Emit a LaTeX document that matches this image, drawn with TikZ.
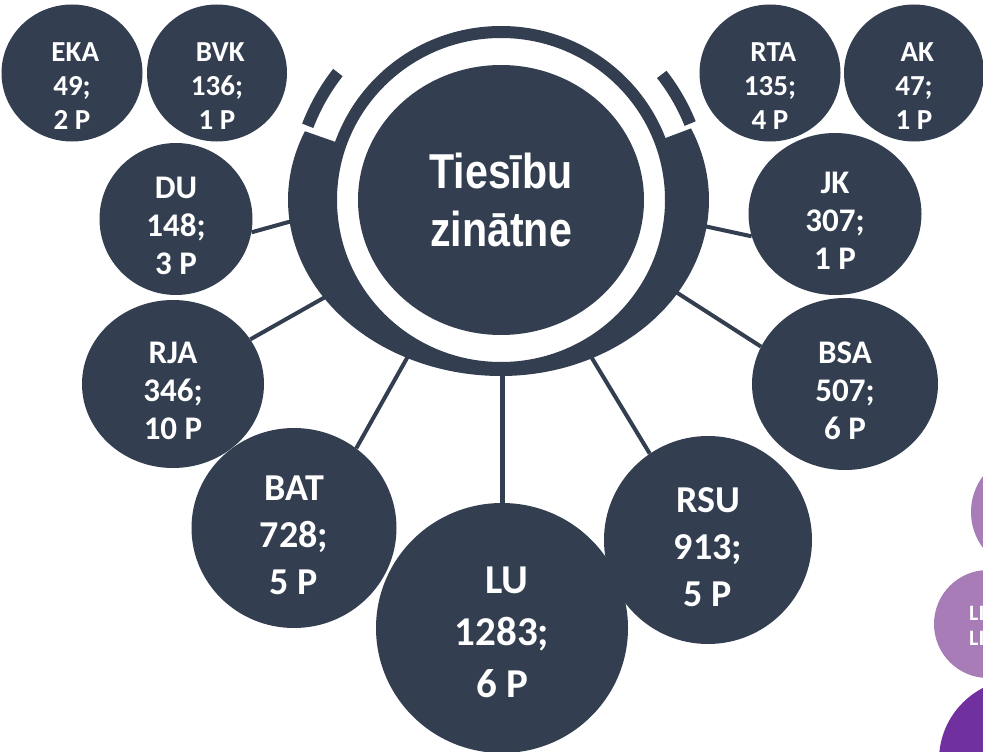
\documentclass[tikz,border=0pt]{standalone}
\usepackage{fontspec}
\setmainfont{Carlito}
\newfontfamily\tzfont{Liberation Sans}[FakeStretch=0.84]
\usetikzlibrary{shapes.geometric}
\definecolor{navy}{HTML}{333F50}
\definecolor{lilac}{HTML}{A77CB7}
\definecolor{plum}{HTML}{7030A0}
\newcommand\st[1][1.05em]{\rule{0pt}{#1}}

\begin{document}
\begin{tikzpicture}[x=1pt, y=1pt,
    bub/.style={ellipse, fill=navy, text=white, inner sep=0pt, align=center},
    sm/.style={bub, inner sep=-12pt, font=\bfseries\fontsize{29}{34}\selectfont},
    md/.style={bub, inner sep=-5pt, font=\bfseries\fontsize{33}{38}\selectfont},
    lg/.style={bub, font=\bfseries\fontsize{38}{47}\selectfont},
    conn/.style={navy, line width=4pt}]
    \useasboundingbox (0,0) rectangle (983,-752);
    \clip (0,0) rectangle (983,-752);
    % satellites
    \node[sm, minimum width=141pt, minimum height=137pt] (EKA) at (72,-73) {\st[1.55em] EKA\\49;\\2 P};
    \node[sm, minimum width=140pt, minimum height=137pt] (BVK) at (217,-73) {\st[1.55em] BVK\\136;\\1 P};
    \node[sm, minimum width=141pt, minimum height=137pt] (RTA) at (770,-73) {\st[1.55em] RTA\\135;\\4 P};
    \node[sm, minimum width=140pt, minimum height=137pt] (AK) at (914,-73) {\st[1.55em] AK\\47;\\1 P};
    \node[md, minimum width=153pt, minimum height=152pt] (DU) at (176,-219) {\st DU\\148;\\3 P};
    \node[md, minimum width=182pt, minimum height=168pt] (RJA) at (173,-384) {\st RJA\\346;\\10 P};
    \node[md, minimum width=173pt, minimum height=162pt] (JK) at (835,-214) {\st JK\\307;\\1 P};
    \node[md, minimum width=186pt, minimum height=172pt] (BSA) at (845,-384) {\st BSA\\507;\\6 P};
    \node[lg, minimum width=205pt, minimum height=200pt] (BAT) at (294,-528) {\st BAT\\728;\\5 P};
    \node[lg, minimum width=208pt, minimum height=208pt] (RSU) at (708,-540) {\st RSU\\913;\\5 P};
    \node[bub, font=\bfseries\fontsize{41}{52}\selectfont, minimum width=252pt, minimum height=250pt] (LU) at (502,-628) {\st[0.85em] LU\\1283;\\6 P};
    % other field, cut at the edge
    \node[circle, fill=lilac, minimum size=120pt] (P1) at (1031,-512) {};
    \node[circle, fill=lilac, minimum size=108pt] (P2) at (988,-624) {};
    \node[anchor=west, text=white, align=left, inner sep=0pt, font=\bfseries\fontsize{22}{25}\selectfont] (P2t) at (969,-626) {LI\\LI};
    \node[circle, fill=plum, minimum size=162pt] (P3) at (1020,-760) {};
    % connectors
    \coordinate (o) at (501,-200);
    \coordinate (duR) at (303,-218);
    \coordinate (rjaR) at (350,-283);
    \coordinate (batR) at (416,-342);
    \coordinate (luR) at (502,-368);
    \coordinate (rsuR) at (584,-345);
    \coordinate (bsaR) at (665,-285);
    \coordinate (jkR) at (690,-223);
    \draw[conn] (duR) -- (DU.-10);
    \draw[conn] (rjaR) -- (RJA.30);
    \draw[conn] (batR) -- (BAT.52);
    \draw[conn, line width=5pt] (luR) -- (LU);
    \draw[conn] (rsuR) -- (RSU.124);
    \draw[conn] (bsaR) -- (BSA.156);
    \draw[conn] (jkR) -- (JK.195);
    % rings
    \fill[navy] (o) -- ++(157:213 and 176) arc[start angle=157, end angle=270, x radius=213, y radius=176] -- cycle;
    \fill[navy] (o) -- ++(24:208 and 176) arc[start angle=24, end angle=-90, x radius=208, y radius=176] -- cycle;
    \draw[navy, line width=12pt] (o) ++(142:207) arc[start angle=142, end angle=159, radius=207];
    \draw[navy, line width=12pt] (o) ++(38:204) arc[start angle=38, end angle=22, radius=204];
    \fill[white] (o) ellipse [x radius=165, y radius=163];
    \draw[navy, line width=12pt] (o) ellipse [x radius=170, y radius=168];
    \node[ellipse, fill=navy, text=white, inner sep=0pt, align=center, minimum width=286pt, minimum height=270pt,
      font=\tzfont\bfseries\fontsize{49}{58}\selectfont] (TZ) at (o) {Tiesību\\zinātne};
\end{tikzpicture}
\end{document}
